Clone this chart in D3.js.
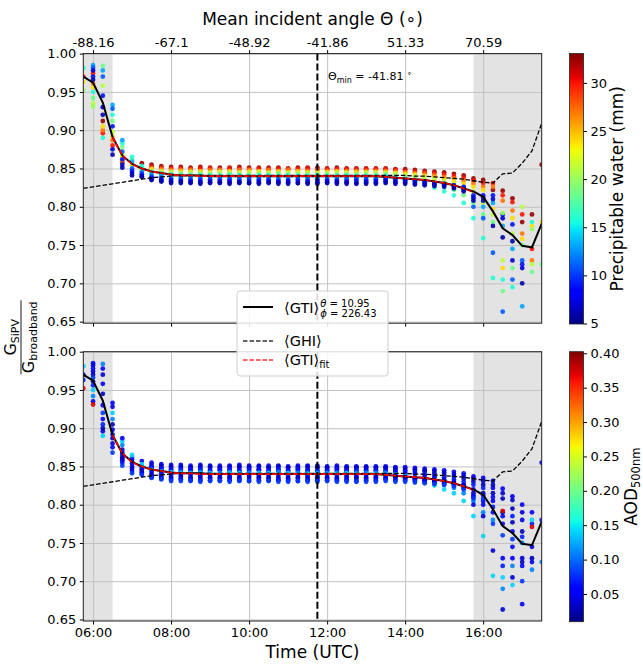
<!DOCTYPE html>
<html>
<head>
<meta charset="utf-8">
<script src="https://cdn.jsdelivr.net/npm/d3@7"></script>
<style>
  body { margin: 0; background: #fff; }
  svg { font-family: "DejaVu Sans", sans-serif; }
</style>
</head>
<body>
<svg id="chart" width="643" height="667"></svg>
<script>
// ---- data ----
var times = ["05:45","06:00","06:15","06:30","06:45","07:00","07:15","07:30","07:45",
  "08:00","08:15","08:30","08:45","09:00","09:15","09:30","09:45","10:00","10:15","10:30","10:45",
  "11:00","11:15","11:30","11:45","12:00","12:15","12:30","12:45","13:00","13:15",
  "13:30","13:45","14:00","14:15","14:30","14:45","15:00","15:15","15:30",
  "15:45","16:00","16:15","16:30","16:45","17:00","17:15","17:30"];

var gtiMean = [0.970,0.962,0.936,0.891,0.867,0.856,0.850,0.846,0.844,
  0.842,0.841,0.841,0.841,0.840,0.840,0.840,0.840,0.840,0.840,0.840,0.840,
  0.840,0.840,0.840,0.840,0.840,0.840,0.840,0.840,0.840,0.840,
  0.839,0.838,0.837,0.836,0.835,0.833,0.831,0.828,0.824,
  0.820,0.813,0.794,0.772,0.763,0.749,0.747,0.778];

var ghiMean = [0.824,0.826,0.828,0.830,0.832,0.834,0.836,0.838,0.839,
  0.840,0.841,0.841,0.841,0.841,0.841,0.841,0.841,0.841,0.841,0.841,0.841,
  0.841,0.841,0.841,0.841,0.841,0.841,0.841,0.841,0.841,0.841,
  0.841,0.841,0.841,0.840,0.840,0.839,0.838,0.837,0.836,
  0.834,0.832,0.831,0.843,0.844,0.857,0.873,0.909];

var fitStart = "06:30";
var fitValues = [0.891,0.868,0.856,0.850,0.846,0.844,0.842,0.841,0.841,0.840,
  0.840,0.840,0.840,0.840,0.840,0.840,0.840,0.840,0.840,0.840,0.840,0.840,0.840,0.840,0.840,0.840,0.840,0.840,
  0.839,0.838,0.837,0.836,0.835,0.833,0.831,0.828,0.824,0.819];

// one entry per day: precipitable water (mm), AOD 500nm
var dayPw  = [32.5, 30, 27, 24, 21, 18.5, 16, 13, 11, 9, 7, 6, 20];
var dayAod = [0.05, 0.04, 0.03, 0.07, 0.05, 0.11, 0.14, 0.06, 0.04, 0.03, 0.06, 0.08, 0.37];

// G_SiPV / G_broadband per day, one value per time step (null = no sample)
var dayRatios = [
  [null,null,0.912,null,null,null,0.857,0.855,0.853,
   0.852,0.852,0.851,0.852,0.851,0.851,0.851,0.852,0.851,0.851,0.851,0.851,0.850,0.851,0.851,0.851,0.850,0.851,0.850,0.850,0.850,0.850,
   0.850,0.849,0.849,0.848,0.847,0.846,0.845,0.843,0.841,
   0.837,0.835,0.822,0.821,0.811,0.780,0.790,0.855],
  [0.970,0.974,0.896,0.880,0.858,null,null,0.852,0.851,
   0.850,0.850,0.849,0.850,0.850,0.849,0.850,0.850,0.849,0.850,0.849,0.850,0.849,0.849,0.850,0.849,0.849,0.849,0.849,0.849,0.849,0.849,
   0.849,0.848,0.847,0.846,0.845,0.844,0.842,0.840,0.838,
   0.834,0.831,0.831,0.815,0.806,0.790,0.745,null],
  [null,0.961,0.900,0.887,0.860,null,null,0.850,0.849,
   0.848,0.848,0.848,0.847,0.848,0.848,0.847,0.848,0.848,0.847,0.848,0.847,0.848,0.847,0.847,0.848,0.847,0.847,0.847,0.847,0.847,0.847,
   0.847,0.846,0.845,0.844,0.843,0.841,0.839,0.837,0.834,
   0.830,0.826,0.826,0.808,0.795,0.765,0.730,null],
  [0.963,0.956,0.905,0.892,0.865,0.854,0.848,0.849,0.847,
   0.846,0.846,0.846,0.846,0.845,0.846,0.846,0.845,0.846,0.846,0.845,0.846,0.845,0.846,0.845,0.845,0.845,0.846,0.845,0.845,0.845,0.845,
   0.845,0.844,0.843,0.842,0.840,0.838,0.836,0.833,0.830,
   0.826,0.822,0.797,0.720,0.785,0.758,0.775,0.780],
  [null,0.935,0.958,0.898,0.868,0.856,0.850,0.847,0.846,
   0.845,0.844,0.845,0.844,0.844,0.845,0.844,0.844,0.844,0.845,0.844,0.844,0.844,0.844,0.844,0.843,0.844,0.844,0.844,0.843,0.844,0.844,
   0.844,0.843,0.841,0.840,0.838,0.836,0.833,0.830,0.826,
   0.820,0.805,0.790,0.730,0.765,0.800,0.725,null],
  [null,0.942,0.984,0.912,0.878,0.862,0.851,0.846,0.844,
   0.843,0.843,0.842,0.843,0.842,0.842,0.843,0.842,0.842,0.842,0.842,0.843,0.842,0.842,0.842,0.842,0.842,0.842,0.842,0.842,0.842,0.842,
   0.842,0.840,0.838,0.835,0.832,0.829,0.826,0.822,0.815,
   0.805,0.790,0.780,0.690,0.720,0.750,0.715,0.725],
  [0.981,0.950,0.890,0.920,0.883,0.865,0.853,0.845,0.843,
   0.842,0.841,0.841,0.841,0.841,0.840,0.841,0.841,0.840,0.841,0.841,0.840,0.841,0.840,0.840,0.841,0.840,0.840,0.841,0.840,0.840,0.840,
   0.840,0.838,0.835,0.832,0.829,0.825,0.820,0.815,0.805,
   0.785,0.759,0.707,0.705,0.695,null,0.780,null],
  [null,0.985,0.978,0.933,0.887,0.859,0.846,0.843,0.841,
   0.840,0.839,0.839,0.839,0.839,0.839,0.838,0.839,0.839,0.838,0.839,0.839,0.838,0.839,0.838,0.838,0.839,0.838,0.838,0.838,0.839,0.838,
   0.839,0.838,0.836,0.835,0.833,0.831,0.829,0.826,0.822,
   0.810,0.800,0.805,0.775,0.745,0.670,null,null],
  [null,0.982,0.970,0.928,0.872,0.850,0.844,0.840,0.838,
   0.837,0.837,0.836,0.837,0.836,0.836,0.836,0.836,0.837,0.836,0.836,0.836,0.835,0.836,0.836,0.836,0.836,0.835,0.836,0.836,0.836,0.836,
   0.836,0.836,0.835,0.834,0.833,0.831,0.830,0.828,0.825,
   0.800,0.785,0.740,0.663,0.705,0.730,null,null],
  [null,0.970,0.945,0.905,0.862,0.847,0.842,0.838,0.836,
   0.835,0.834,0.834,0.834,0.834,0.834,0.834,0.833,0.834,0.834,0.834,0.833,0.834,0.834,0.833,0.834,0.834,0.834,0.833,0.834,0.834,0.834,
   0.835,0.834,0.834,0.833,0.832,0.831,0.830,0.828,0.826,
   0.815,0.815,0.815,0.790,0.777,0.725,null,null],
  [null,0.978,0.930,0.875,0.855,0.844,0.840,0.836,0.834,
   0.833,0.833,0.832,0.832,0.832,0.832,0.832,0.832,0.831,0.832,0.832,0.832,0.832,0.831,0.832,0.832,0.832,0.832,0.832,0.831,0.832,0.832,
   0.833,0.832,0.832,0.831,0.830,0.829,0.828,0.826,0.823,
   0.812,0.812,0.810,0.785,0.730,0.720,null,null],
  [null,0.966,0.920,0.868,0.851,0.841,0.839,0.835,0.833,
   0.831,0.831,0.831,0.830,0.831,0.831,0.830,0.831,0.831,0.830,0.831,0.830,0.830,0.831,0.830,0.830,0.831,0.830,0.830,0.830,0.830,0.830,
   0.831,0.830,0.830,0.829,0.828,0.827,0.826,0.824,0.820,
   0.808,0.808,0.775,0.760,0.755,0.700,null,null],
  [0.952,0.931,null,null,null,null,null,null,null,
   null,null,null,null,null,null,null,null,null,null,null,null,null,null,null,null,null,null,null,null,null,null,
   null,null,null,null,null,null,null,null,null,
   null,null,null,0.792,null,null,0.771,null]
];

var yTicks = [0.65, 0.70, 0.75, 0.80, 0.85, 0.90, 0.95, 1.00];
var angleTickTimes = ["06:00","08:00","10:00","12:00","14:00","16:00"];
var angleTickLabels = ["-88.16","-67.1","-48.92","-41.86","51.33","70.59"];
var shadedSpans = [["05:45","06:30"],["15:45","17:30"]];
var minAngleTime = "11:45";
var pwTicks = [5, 10, 15, 20, 25, 30];
var pwRange = [4.95, 33.05];
var aodTicks = [0.05, 0.10, 0.15, 0.20, 0.25, 0.30, 0.35, 0.40];
var aodRange = [0.0097, 0.4023];

// matplotlib "jet" breakpoints
var jetStops = [0, 0.11, 0.125, 0.34, 0.35, 0.375, 0.64, 0.65, 0.66, 0.89, 0.91, 1];
var jetColors = ["rgb(0,0,128)","rgb(0,0,255)","rgb(0,0,255)","rgb(0,219,255)","rgb(0,230,247)",
  "rgb(21,255,226)","rgb(238,255,8)","rgb(247,246,0)","rgb(255,236,0)","rgb(255,19,0)",
  "rgb(232,0,0)","rgb(128,0,0)"];

// ---- setup ----
var svg = d3.select("#chart");
var parseTime = d3.timeParse("%H:%M");
var plotLeft = 83.3, plotRight = 541.7;
var cbLeft = 569.5, cbWidth = 14;
var tickFont = "13px";

var x = d3.scaleTime()
  .domain([parseTime("05:45"), parseTime("17:30")])
  .range([plotLeft, plotRight]);

var jet = d3.scaleLinear().domain(jetStops).range(jetColors).clamp(true);
var pwNorm = d3.scaleLinear().domain(pwRange).range([0, 1]).clamp(true);
var aodNorm = d3.scaleLinear().domain(aodRange).range([0, 1]).clamp(true);

var points = [];
dayRatios.forEach(function(row, d) {
  row.forEach(function(v, i) {
    if (v !== null) {
      points.push({time: parseTime(times[i]), ratio: v, pw: dayPw[d], aod: dayAod[d]});
    }
  });
});

var meanData = times.map(function(t, i) {
  return {time: parseTime(t), gti: gtiMean[i], ghi: ghiMean[i]};
});
var fitOffset = times.indexOf(fitStart);
var fitData = fitValues.map(function(v, i) {
  return {time: parseTime(times[fitOffset + i]), v: v};
});

var panels = [
  {id: "top", top: 53.6, bottom: 323.2, color: function(d) { return jet(pwNorm(d.pw)); },
   cbTop: 53.5, cbBottom: 324, cbDomain: pwRange, cbTicks: pwTicks, cbFormat: d3.format("d")},
  {id: "bot", top: 351.7, bottom: 621, color: function(d) { return jet(aodNorm(d.aod)); },
   cbTop: 351.7, cbBottom: 621.7, cbDomain: aodRange, cbTicks: aodTicks, cbFormat: d3.format(".2f")}
];

function styleAxis(sel) {
  sel.selectAll("text").attr("font-size", tickFont).attr("font-family", "DejaVu Sans").attr("fill", "#000");
  sel.selectAll("line").attr("stroke", "#000");
  sel.select(".domain").remove();
}

var defs = svg.append("defs");
var grad = defs.append("linearGradient").attr("id", "jetGrad")
  .attr("x1", 0).attr("y1", 1).attr("x2", 0).attr("y2", 0);
jetStops.forEach(function(s, i) {
  grad.append("stop").attr("offset", s).attr("stop-color", jetColors[i]);
});

panels.forEach(function(p) {
  var y = d3.scaleLinear().domain([0.648, 1.0]).range([p.bottom, p.top]);
  var h = p.bottom - p.top;
  var g = svg.append("g");

  defs.append("clipPath").attr("id", "clip-" + p.id)
    .append("rect").attr("x", plotLeft).attr("y", p.top)
    .attr("width", plotRight - plotLeft).attr("height", h);

  // shaded low-sun periods
  g.selectAll(".span").data(shadedSpans).enter().append("rect")
    .attr("x", function(d) { return x(parseTime(d[0])); })
    .attr("width", function(d) { return x(parseTime(d[1])) - x(parseTime(d[0])); })
    .attr("y", p.top).attr("height", h)
    .attr("fill", "#e3e3e3");

  // grid
  g.append("g").attr("transform", "translate(0," + p.bottom + ")")
    .call(d3.axisBottom(x).ticks(d3.timeHour.every(2)).tickSize(-h).tickFormat(""))
    .call(function(s) { s.select(".domain").remove(); })
    .selectAll("line").attr("stroke", "#c2c2c2").attr("stroke-width", 1);
  g.append("g").attr("transform", "translate(" + plotLeft + ",0)")
    .call(d3.axisLeft(y).tickValues(yTicks).tickSize(-(plotRight - plotLeft)).tickFormat(""))
    .call(function(s) { s.select(".domain").remove(); })
    .selectAll("line").attr("stroke", "#c2c2c2").attr("stroke-width", 1);

  var plot = g.append("g").attr("clip-path", "url(#clip-" + p.id + ")");

  plot.selectAll("circle").data(points).enter().append("circle")
    .attr("cx", function(d) { return x(d.time); })
    .attr("cy", function(d) { return y(d.ratio); })
    .attr("r", 2.4)
    .attr("fill", p.color)
    .attr("opacity", 0.9);

  var line = d3.line().x(function(d) { return x(d.time); });

  plot.append("path").datum(meanData)
    .attr("d", line.y(function(d) { return y(d.ghi); }))
    .attr("fill", "none").attr("stroke", "#000").attr("stroke-width", 1.3)
    .attr("stroke-dasharray", "4.5,2");

  plot.append("path").datum(meanData)
    .attr("d", line.y(function(d) { return y(d.gti); }))
    .attr("fill", "none").attr("stroke", "#000").attr("stroke-width", 2);

  plot.append("path").datum(fitData)
    .attr("d", d3.line().curve(d3.curveMonotoneX)
      .x(function(d) { return x(d.time); })
      .y(function(d) { return y(d.v); }))
    .attr("fill", "none").attr("stroke", "#ff0000").attr("stroke-width", 1.6)
    .attr("stroke-dasharray", "5.5,1.5");

  plot.append("line")
    .attr("x1", x(parseTime(minAngleTime))).attr("x2", x(parseTime(minAngleTime)))
    .attr("y1", p.top).attr("y2", p.bottom)
    .attr("stroke", "#000").attr("stroke-width", 2).attr("stroke-dasharray", "7,3");

  // axes
  g.append("g").attr("transform", "translate(" + plotLeft + ",0)")
    .call(d3.axisLeft(y).tickValues(yTicks).tickSize(3.5).tickPadding(3.5).tickFormat(d3.format(".2f")))
    .call(styleAxis);
  g.append("g").attr("transform", "translate(0," + p.bottom + ")")
    .call(d3.axisBottom(x).ticks(d3.timeHour.every(2)).tickSize(3.5).tickPadding(3.5)
      .tickFormat(p.id === "bot" ? d3.timeFormat("%H:%M") : ""))
    .call(styleAxis);

  g.append("rect")
    .attr("x", plotLeft).attr("y", p.top)
    .attr("width", plotRight - plotLeft).attr("height", h)
    .attr("fill", "none").attr("stroke", "#222").attr("stroke-width", 1);

  // colorbar
  var cy = d3.scaleLinear().domain(p.cbDomain).range([p.cbBottom, p.cbTop]);
  g.append("rect")
    .attr("x", cbLeft).attr("y", p.cbTop)
    .attr("width", cbWidth).attr("height", p.cbBottom - p.cbTop)
    .attr("fill", "url(#jetGrad)").attr("stroke", "#222").attr("stroke-width", 0.8);
  g.append("g").attr("transform", "translate(" + (cbLeft + cbWidth) + ",0)")
    .call(d3.axisRight(cy).tickValues(p.cbTicks).tickSize(3.5).tickPadding(3.5).tickFormat(p.cbFormat))
    .call(styleAxis);
});

// top angle axis
var angleAxis = d3.axisTop(x)
  .tickValues(angleTickTimes.map(function(t) { return parseTime(t); }))
  .tickSize(3.5).tickPadding(3.5)
  .tickFormat(function(d, i) { return angleTickLabels[i]; });
svg.append("g").attr("transform", "translate(0," + panels[0].top + ")")
  .call(angleAxis).call(styleAxis);

// titles
var midX = (plotLeft + plotRight) / 2;
svg.append("text").attr("x", midX).attr("y", 25).attr("text-anchor", "middle")
  .attr("font-size", "17px").text("Mean incident angle \u0398 (\u2218)");
svg.append("text").attr("x", midX).attr("y", 658).attr("text-anchor", "middle")
  .attr("font-size", "17px").text("Time (UTC)");

var minLabel = svg.append("text").attr("x", 328).attr("y", 80).attr("font-size", "11px");
minLabel.append("tspan").text("\u0398");
minLabel.append("tspan").attr("font-size", "8px").attr("dy", 2.5).text("min");
minLabel.append("tspan").attr("dy", -2.5).text(" = -41.81 ");
minLabel.append("tspan").attr("font-size", "8px").attr("dy", -4).text("\u2218");

// y label as a fraction
var yl = svg.append("g").attr("transform", "translate(21," + ((panels[0].top + panels[1].bottom) / 2) + ") rotate(-90)");
var num = yl.append("text").attr("text-anchor", "middle").attr("y", -5).attr("font-size", "16px");
num.append("tspan").text("G");
num.append("tspan").attr("font-size", "11px").attr("dy", 3).text("SiPV");
yl.append("line").attr("x1", -37).attr("x2", 37).attr("y1", 0).attr("y2", 0)
  .attr("stroke", "#000").attr("stroke-width", 0.9);
var den = yl.append("text").attr("text-anchor", "middle").attr("y", 13).attr("font-size", "16px");
den.append("tspan").text("G");
den.append("tspan").attr("font-size", "11px").attr("dy", 3).text("broadband");

// colorbar labels
var pwMid = (panels[0].cbTop + panels[0].cbBottom) / 2;
svg.append("text").attr("transform", "translate(623," + pwMid + ") rotate(-90)")
  .attr("text-anchor", "middle").attr("font-size", "17px").text("Precipitable water (mm)");
var aodMid = (panels[1].cbTop + panels[1].cbBottom) / 2;
var aodLabel = svg.append("text").attr("transform", "translate(637," + aodMid + ") rotate(-90)")
  .attr("text-anchor", "middle").attr("font-size", "17px");
aodLabel.append("tspan").text("AOD");
aodLabel.append("tspan").attr("font-size", "11.5px").attr("dy", 3).text("500nm");

// legend
var lg = svg.append("g").attr("transform", "translate(237,291)");
lg.append("rect").attr("width", 151).attr("height", 85).attr("rx", 3)
  .attr("fill", "#fff").attr("fill-opacity", 0.85).attr("stroke", "#cfcfcf");
lg.append("line").attr("x1", 6).attr("x2", 36).attr("y1", 16).attr("y2", 16)
  .attr("stroke", "#000").attr("stroke-width", 2);
var gtiLabel = lg.append("text").attr("x", 47).attr("y", 22).attr("font-size", "14.5px").text("\u27E8GTI\u27E9");
var scriptX = 47 + gtiLabel.node().getComputedTextLength() + 1;
var sup = lg.append("text").attr("x", scriptX).attr("y", 15.5).attr("font-size", "10px");
sup.append("tspan").attr("font-style", "italic").text("\u03B8");
sup.append("tspan").text(" = 10.95");
var sub = lg.append("text").attr("x", scriptX).attr("y", 26).attr("font-size", "10px");
sub.append("tspan").attr("font-style", "italic").text("\u03D5");
sub.append("tspan").text(" = 226.43");

lg.append("line").attr("x1", 6).attr("x2", 36).attr("y1", 50).attr("y2", 50)
  .attr("stroke", "#333").attr("stroke-width", 1.3).attr("stroke-dasharray", "4.5,2");
lg.append("text").attr("x", 47).attr("y", 55).attr("font-size", "14.5px").text("\u27E8GHI\u27E9");

lg.append("line").attr("x1", 6).attr("x2", 36).attr("y1", 69).attr("y2", 69)
  .attr("stroke", "#ff3030").attr("stroke-width", 1.5).attr("stroke-dasharray", "4.5,2");
var fitText = lg.append("text").attr("x", 47).attr("y", 74).attr("font-size", "14.5px");
fitText.append("tspan").text("\u27E8GTI\u27E9");
fitText.append("tspan").attr("font-size", "10px").attr("dy", 3).text("fit");
</script>
</body>
</html>
